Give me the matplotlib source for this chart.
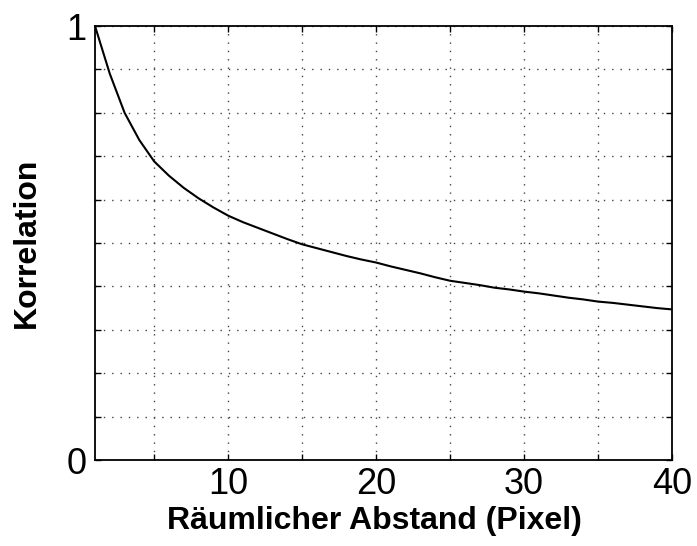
import matplotlib
matplotlib.use("Agg")
import matplotlib.pyplot as plt
import numpy as np

distance = list(range(1, 41))
correlation = [1.000, 0.890, 0.800, 0.737, 0.688, 0.655, 0.627, 0.603, 0.582, 0.563,
               0.548, 0.535, 0.522, 0.509, 0.497, 0.488, 0.479, 0.470, 0.462, 0.455,
               0.446, 0.438, 0.430, 0.421, 0.413, 0.408, 0.403, 0.397, 0.393, 0.388,
               0.384, 0.379, 0.374, 0.370, 0.365, 0.362, 0.358, 0.354, 0.350, 0.347]
x_ticks = [5, 10, 15, 20, 25, 30, 35, 40]
x_ticklabels = ["", "10", "", "20", "", "30", "", "40"]
y_ticks = [0, 0.1, 0.2, 0.3, 0.4, 0.5, 0.6, 0.7, 0.8, 0.9, 1.0]
y_ticklabels = ["0", "", "", "", "", "", "", "", "", "", "1"]

plt.rcParams['font.family'] = ['Liberation Sans', 'DejaVu Sans']

fig = plt.figure(figsize=(6.97, 5.46), dpi=100)
ax = fig.add_axes([95/697, 86/546, 577/697, 434/546])

ax.plot(distance, correlation, color='black', lw=1.5)
ax.set_xlim(1, 40)
ax.set_ylim(0, 1)
ax.set_xticks(x_ticks)
ax.set_xticklabels(x_ticklabels, fontsize=26)
ax.set_yticks(y_ticks)
ax.set_yticklabels(y_ticklabels, fontsize=26)
ax.tick_params(direction='in', length=4, width=1, top=True, right=True)
ax.tick_params(axis='x', pad=5)
ax.tick_params(axis='y', pad=6)
ax.grid(True, color='#444444', linestyle=(0, (1, 5)), lw=1.0)
for s in ax.spines.values():
    s.set_linewidth(1.3)

ax.set_xlabel("Räumlicher Abstand (Pixel)", fontsize=23, fontweight='bold', labelpad=2)
ax.xaxis.set_label_coords(0.485, -0.105)
ax.set_ylabel("Korrelation", fontsize=23, fontweight='bold', labelpad=18)

fig.savefig("out.png", dpi=100)
